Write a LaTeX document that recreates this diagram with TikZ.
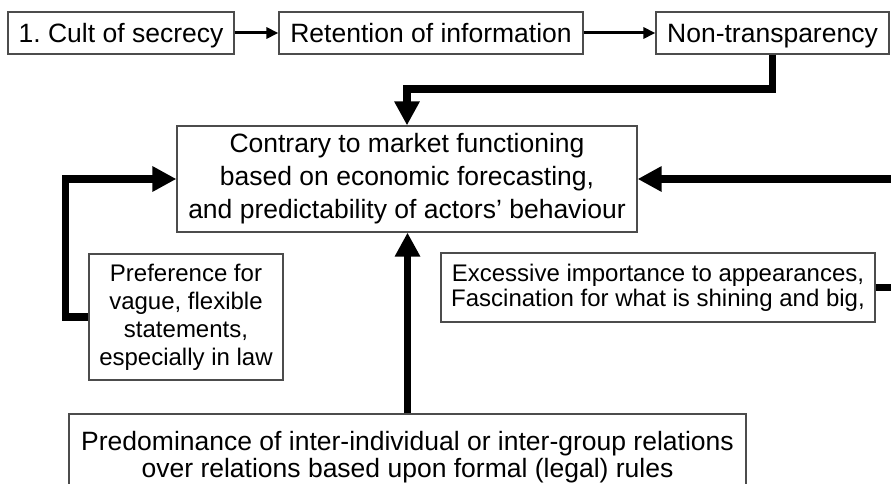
\documentclass[tikz,border=0pt]{standalone}
\usepackage{fontspec}
\setmainfont{Liberation Sans}
\usetikzlibrary{arrows.meta}
\frenchspacing
\begin{document}
\begin{tikzpicture}[x=1pt,y=-1pt,
  box/.style={draw=black!70, line width=1.2pt, align=center, inner sep=0pt, font=\fontsize{26.5}{33}\selectfont},
  topbox/.style={box, minimum height=42pt, text depth=0pt, text height=19pt},
  smallbox/.style={box, font=\fontsize{24}{28}\selectfont},
  thinarrow/.style={line width=3pt, -{Triangle[length=12pt,width=11pt]}},
  bigarrow/.style={line width=7.5pt, -{Triangle[length=24pt,width=24pt]}}]
\useasboundingbox (0,0) rectangle (891,484);
\clip (0,0) rectangle (891,484);
\fill[white] (0,0) rectangle (891,484);
\node[topbox, minimum width=226pt] (b1) at (121,33) {1. Cult of secrecy};
\node[topbox, minimum width=304pt] (b2) at (431,33) {Retention of information};
\node[topbox, minimum width=233pt] (b3) at (772.5,33) {Non-transparency};
\node[box, minimum width=460pt, minimum height=106pt] (main) at (407,179)
  {Contrary to market functioning\\based on economic forecasting,\\and predictability of actors’ behaviour};
\node[smallbox, minimum width=194pt, minimum height=126pt] (pref) at (186,317)
  {Preference for\\vague, flexible\\statements,\\especially in law};
\node[smallbox, font=\fontsize{24}{25}\selectfont, minimum width=434pt, minimum height=69pt] (ex) at (658,287.5)
  {Excessive importance to appearances,\\Fascination for what is shining and big,};
\node[box, font=\fontsize{26.5}{27}\selectfont, minimum width=677pt, minimum height=86pt] (bot) at (407.5,457)
  {Predominance of inter-individual or inter-group relations\\over relations based upon formal (legal) rules};
\coordinate (r) at (905,0);
\draw[thinarrow] (b1.east) -- (b2.west);
\draw[thinarrow] (b2.east) -- (b3.west);
\draw[bigarrow] (b3.south) -- (b3.south |- 0,89) -| (main.north);
\draw[bigarrow] (pref.west) -- ++(-23,0) |- (main.west);
\draw[bigarrow] (ex.east) -- (ex.east -| r) |- (main.east);
\draw[bigarrow] (bot.north) -- (bot.north |- main.south);
\end{tikzpicture}
\end{document}
